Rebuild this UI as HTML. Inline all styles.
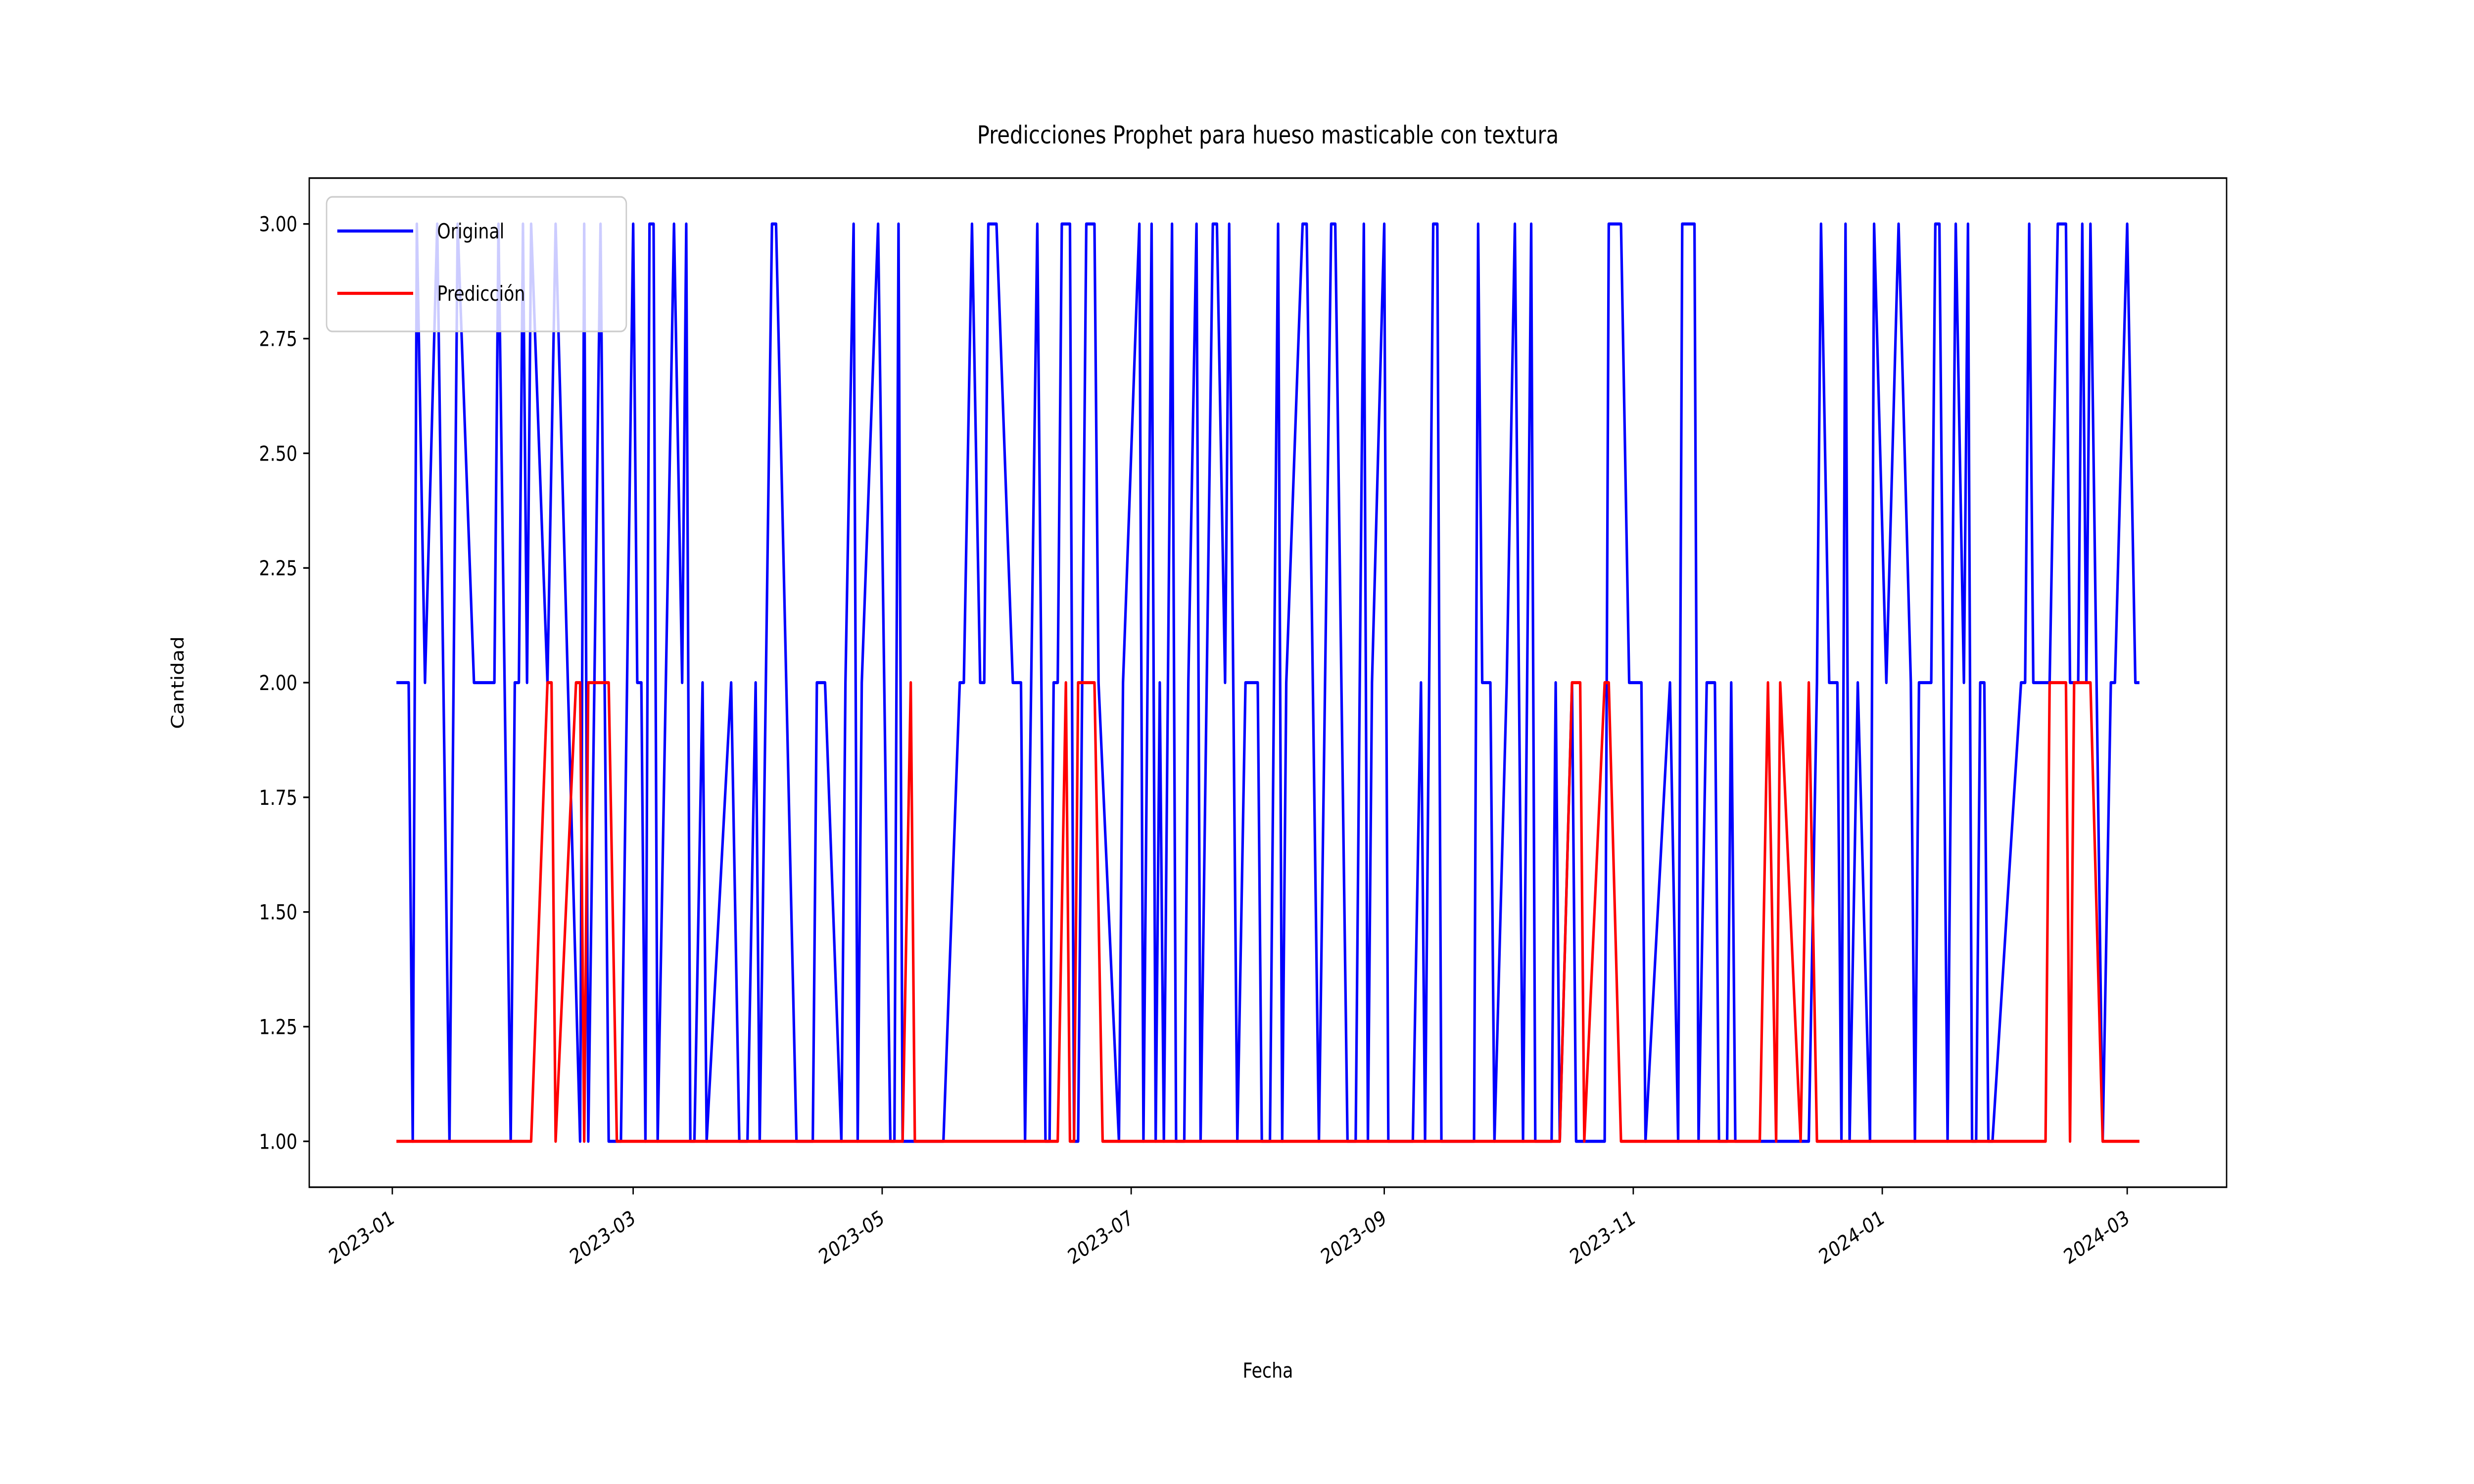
<!DOCTYPE html>
<html><head><meta charset="utf-8"><meta name="viewport" content="width=6000, height=3000, initial-scale=1">
<style>
html,body{margin:0;padding:0;background:#fff;overflow:hidden;width:100vw;height:100vh;}
svg{display:block;width:100vw;height:100vh;font-family:"DejaVu Sans","Liberation Sans",sans-serif;}
</style></head><body>
<svg id="chart" viewBox="0 0 6000 3000" preserveAspectRatio="none" xmlns="http://www.w3.org/2000/svg">
<rect x="0" y="0" width="6000" height="3000" fill="#fff"/>
<text x="3075" y="290" font-size="50" text-anchor="middle" fill="#000">Predicciones Prophet para hueso masticable con textura</text>
<text x="3075" y="2785" font-size="41.7" text-anchor="middle" fill="#000">Fecha</text>
<text x="0" y="0" font-size="41.7" text-anchor="middle" fill="#000" transform="translate(445,1380) rotate(-90)">Cantidad</text>
<g id="plot"></g>
<rect x="750" y="360" width="4650" height="2040" fill="none" stroke="#000" stroke-width="3.33"/>
<g>
<rect x="792" y="398" width="727" height="272" rx="14" fill="#fff" fill-opacity="0.8" stroke="#ccc" stroke-width="3.33"/>
<line x1="818" y1="467" x2="1002" y2="467" stroke="#0000ff" stroke-width="6.25"/>
<text x="1060" y="482" font-size="41.7" fill="#000">Original</text>
<line x1="818" y1="593" x2="1002" y2="593" stroke="#ff0000" stroke-width="6.25"/>
<text x="1060" y="608" font-size="41.7" fill="#000">Predicción</text>
</g>
</svg>
<script>
// days since 2023-01-01
const originalDays = [1,4,5,6,8,11,14,16,20,25,26,29,30,31,32,33,34,38,40,46,47,48,51,53,56,59,60,61,62,63,64,65,69,71,72,73,74,76,77,83,85,87,89,90,93,94,99,103,104,106,110,111,113,114,115,119,122,123,124,125,135,139,140,142,144,145,146,148,152,154,155,158,160,161,162,163,164,166,167,168,170,172,173,178,179,183,184,186,187,188,189,191,192,194,195,197,198,201,202,204,205,207,209,212,213,215,217,218,219,223,224,227,230,231,234,236,238,239,240,243,244,250,252,253,255,256,257,265,266,267,269,270,273,275,277,279,280,284,285,286,289,290,297,298,301,303,306,307,313,315,316,319,320,322,324,325,327,328,329,345,347,349,350,352,354,355,356,357,359,362,363,366,369,372,373,374,377,378,379,381,383,385,386,387,388,389,390,391,392,399,400,401,402,406,408,410,411,413,414,415,416,419,421,422,425,427,428];
const originalValues = [2,2,1,3,2,3,1,3,2,2,3,1,2,2,3,2,3,2,3,1,3,1,3,1,1,3,2,2,1,3,3,1,3,2,3,1,1,2,1,2,1,1,2,1,3,3,1,1,2,2,1,2,3,1,2,3,1,1,3,1,1,2,2,3,2,2,3,3,2,2,1,3,1,1,2,2,3,3,1,1,3,3,2,1,2,3,1,3,1,2,1,3,1,1,2,3,1,3,3,2,3,1,2,2,1,1,3,1,2,3,3,1,3,3,1,1,3,1,2,3,1,1,2,1,3,3,1,1,3,2,2,1,2,3,1,3,1,1,2,1,2,1,1,3,3,2,2,1,2,1,3,3,1,2,2,1,1,2,1,1,1,2,3,2,2,1,3,1,2,1,3,2,3,2,1,2,2,3,3,1,3,2,3,1,1,2,2,1,1,2,2,3,2,2,3,3,2,2,3,2,3,1,2,2,3,2,2];
const predDays = [1,34,38,39,40,45,46,47,48,53,55,125,127,128,163,165,166,167,168,172,174,286,289,291,292,297,298,301,335,337,339,340,345,347,349,405,406,410,411,412,416,419,428];
const predValues = [1,1,2,2,1,2,2,1,2,2,1,1,2,1,1,2,1,1,2,2,1,1,2,2,1,2,2,1,1,2,1,2,1,2,1,1,2,2,1,2,2,1,1];
const yTicks = [1.00,1.25,1.50,1.75,2.00,2.25,2.50,2.75,3.00];
const xTickDays = [0,59,120,181,243,304,365,425];
const xTickLabels = ["2023-01","2023-03","2023-05","2023-07","2023-09","2023-11","2024-01","2024-03"];

const NS = "http://www.w3.org/2000/svg";
const dMin = Math.min(...originalDays, ...predDays), dMax = Math.max(...originalDays, ...predDays);
const span = dMax - dMin;
const xLo = dMin - 0.05*span, xHi = dMax + 0.05*span;
const vMin = 1, vMax = 3, vs = vMax - vMin;
const yLo = vMin - 0.05*vs, yHi = vMax + 0.05*vs;
function X(d){ return 750 + (d - xLo)/(xHi - xLo)*4650; }
function Y(v){ return 2400 - (v - yLo)/(yHi - yLo)*2040; }
const svg = document.getElementById('chart');
const plot = document.getElementById('plot');

yTicks.forEach(t => {
  const ln = document.createElementNS(NS,'line');
  ln.setAttribute('x1',750); ln.setAttribute('x2',735.4);
  ln.setAttribute('y1',Y(t)); ln.setAttribute('y2',Y(t));
  ln.setAttribute('stroke','#000'); ln.setAttribute('stroke-width','3.33');
  
  
  svg.appendChild(ln);
  const tx = document.createElementNS(NS,'text');
  tx.setAttribute('x',721); tx.setAttribute('y',Y(t)+15);
  tx.setAttribute('font-size','41.7'); tx.setAttribute('text-anchor','end');
  tx.textContent = t.toFixed(2);
  
  
  svg.appendChild(tx);
});
xTickDays.forEach((d,i) => {
  const x = X(d);
  const ln = document.createElementNS(NS,'line');
  ln.setAttribute('x1',x); ln.setAttribute('x2',x);
  ln.setAttribute('y1',2400); ln.setAttribute('y2',2414.6);
  ln.setAttribute('stroke','#000'); ln.setAttribute('stroke-width','3.33');
  
  
  svg.appendChild(ln);
  const tx = document.createElementNS(NS,'text');
  tx.setAttribute('x',0); tx.setAttribute('y',0);
  tx.setAttribute('font-size','41.7'); tx.setAttribute('text-anchor','end');
  tx.setAttribute('transform','translate('+(x+8)+',2470) rotate(-30)');
  tx.textContent = xTickLabels[i];
  
  
  svg.appendChild(tx);
});
function series(days, vals, color, name){
  const p = document.createElementNS(NS,'polyline');
  p.setAttribute('points', days.map((d,i)=>X(d).toFixed(1)+','+Y(vals[i]).toFixed(1)).join(' '));
  p.setAttribute('fill','none'); p.setAttribute('stroke',color);
  p.setAttribute('stroke-width','6.25'); p.setAttribute('stroke-linejoin','round');
  
  
  plot.appendChild(p);
}
series(originalDays, originalValues, '#0000ff', 'original-line');
series(predDays, predValues, '#ff0000', 'prediccion-line');
</script>
</body></html>
